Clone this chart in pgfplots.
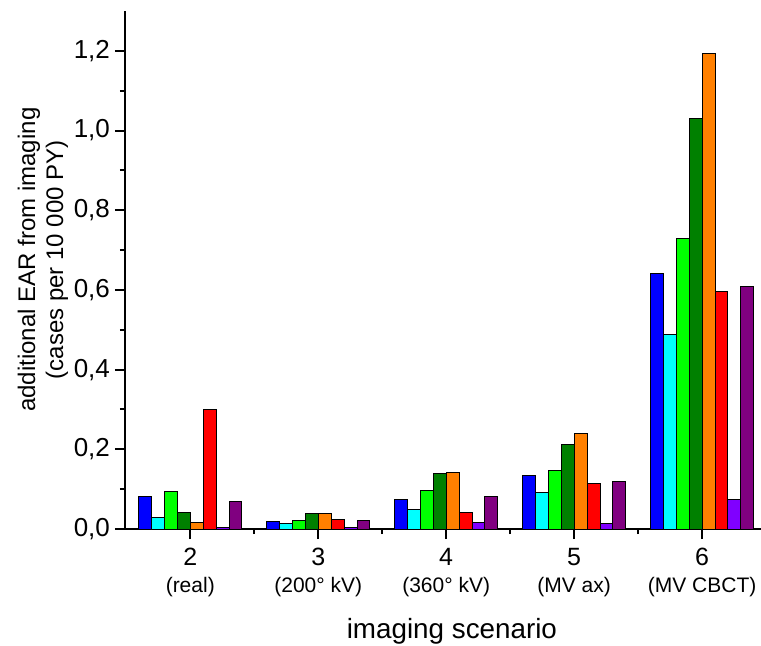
\documentclass[border=0pt]{standalone}
\usepackage{pgfplots}
\pgfplotsset{compat=1.18}
\usepackage{fontspec}
\setmainfont{Liberation Sans}
\definecolor{cBlue}{RGB}{0,0,255}
\definecolor{cCyan}{RGB}{0,255,255}
\definecolor{cLime}{RGB}{0,255,0}
\definecolor{cGreen}{RGB}{0,128,0}
\definecolor{cOrange}{RGB}{255,128,0}
\definecolor{cRed}{RGB}{255,0,0}
\definecolor{cViolet}{RGB}{128,0,255}
\definecolor{cPurple}{RGB}{128,0,128}
\begin{document}
\begin{tikzpicture}
\begin{axis}[
  scale only axis,
  width=318pt, height=259pt,
  xmin=1.49, xmax=6.46, ymin=0, ymax=1.3,
  separate axis lines,
  axis x line=bottom, axis y line=left,
  axis line style={-, line width=1pt},
  tick align=outside,
  major tick length=5pt, minor tick length=2.5pt,
  every tick/.style={black, line width=1pt},
  xtick={2,3,4,5,6},
  minor xtick={2.5,3.5,4.5,5.5},
  xticklabels={
    2\\[-1.5pt]{\fontsize{10.5}{12}\selectfont (real)},
    3\\[-1.5pt]{\fontsize{10.5}{12}\selectfont (200° kV)},
    4\\[-1.5pt]{\fontsize{10.5}{12}\selectfont (360° kV)},
    5\\[-1.5pt]{\fontsize{10.5}{12}\selectfont (MV ax)},
    6\\[-1.5pt]{\fontsize{10.5}{12}\selectfont (MV CBCT)}},
  xticklabel style={align=center, font=\fontsize{12.5}{15}\selectfont,
    yshift=-1pt},
  ytick={0,0.2,0.4,0.6,0.8,1.0,1.2},
  minor ytick={0.1,0.3,0.5,0.7,0.9,1.1},
  yticklabel style={font=\fontsize{13}{15}\selectfont, xshift=1pt,
    /pgf/number format/.cd, fixed, fixed zerofill, precision=1, use comma,
    assume math mode=true},
  xlabel={imaging scenario},
  xlabel style={font=\fontsize{13.9}{16}\selectfont,
    at={(axis description cs:0.514,-0.197)}, anchor=center},
  ylabel={additional EAR from imaging\\(cases per 10 000 PY)},
  ylabel style={font=\fontsize{12}{14}\selectfont, align=center,
    at={(axis description cs:-0.129,0.52)}, anchor=center},
  ybar=0pt, bar width=0.101,
  every axis plot/.append style={draw=black, line width=0.5pt},
  clip=false,
]
\addplot[fill=cBlue]   coordinates {(2,0.082) (3,0.020) (4,0.075) (5,0.135) (6,0.640)};
\addplot[fill=cCyan]   coordinates {(2,0.029) (3,0.013) (4,0.050) (5,0.091) (6,0.487)};
\addplot[fill=cLime]   coordinates {(2,0.094) (3,0.022) (4,0.096) (5,0.146) (6,0.728)};
\addplot[fill=cGreen]  coordinates {(2,0.042) (3,0.038) (4,0.140) (5,0.211) (6,1.030)};
\addplot[fill=cOrange] coordinates {(2,0.017) (3,0.040) (4,0.142) (5,0.240) (6,1.193)};
\addplot[fill=cRed]    coordinates {(2,0.300) (3,0.023) (4,0.042) (5,0.114) (6,0.597)};
\addplot[fill=cViolet] coordinates {(2,0.005) (3,0.004) (4,0.017) (5,0.013) (6,0.075)};
\addplot[fill=cPurple] coordinates {(2,0.069) (3,0.022) (4,0.082) (5,0.118) (6,0.609)};
\coordinate (O) at (rel axis cs:0,0);
\end{axis}
\pgfresetboundingbox
\useasboundingbox (O) ++(-62.5pt,-58pt) rectangle ++(380.5pt,322.5pt);
\end{tikzpicture}
\end{document}
